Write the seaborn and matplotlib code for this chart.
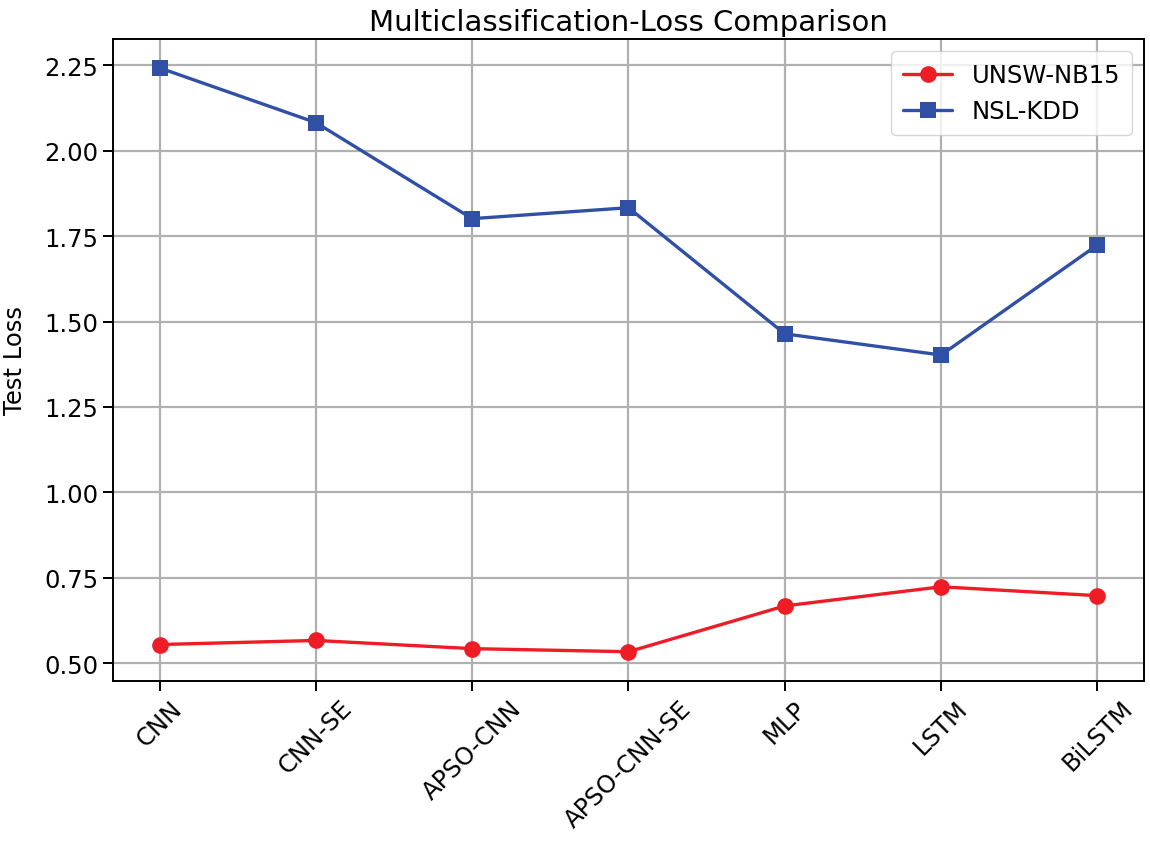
import pandas as pd
import numpy as np
import matplotlib
matplotlib.use('Agg')
import matplotlib.pyplot as plt
import seaborn as sns

# Données
modeles = ['CNN', 'CNN-SE', 'APSO-CNN', 'APSO-CNN-SE', 'MLP', 'LSTM', 'BiLSTM']
perte_unsw = [0.555, 0.567, 0.543, 0.534, 0.668, 0.724, 0.698]
perte_nsl = [2.242, 2.082, 1.801, 1.833, 1.464, 1.402, 1.724]

df = pd.DataFrame({
    'modele': modeles * 2,
    'perte': perte_unsw + perte_nsl,
    'jeu': ['UNSW-NB15'] * len(modeles) + ['NSL-KDD'] * len(modeles),
})

sns.set_style('white')
plt.rcParams['font.family'] = ['DejaVu Sans']
plt.rcParams['text.color'] = 'black'
plt.rcParams['axes.labelcolor'] = 'black'

fig = plt.figure(figsize=(11.5, 8.45), dpi=100)
ax = fig.add_axes([0.098, 0.193, 0.897, 0.760])

sns.lineplot(data=df, x='modele', y='perte', hue='jeu', style='jeu',
             palette={'UNSW-NB15': '#ee1c25', 'NSL-KDD': '#3050a5'},
             markers={'UNSW-NB15': 'o', 'NSL-KDD': 's'}, dashes=False,
             markersize=12, linewidth=2.4, markeredgewidth=0, sort=False, ax=ax)

ax.set_xlim(-0.3, 6.3)
ax.margins(y=0.05)
ax.set_yticks([0.5, 0.75, 1.0, 1.25, 1.5, 1.75, 2.0, 2.25])
ax.grid(True, color='#b0b0b0', linewidth=1.6)
ax.set_axisbelow(True)
for s in ax.spines.values():
    s.set_color('black')
    s.set_linewidth(1.4)
ax.tick_params(axis='both', which='major', direction='out', length=7, width=1.4,
               labelsize=17.5, left=True, bottom=True, colors='black')
plt.setp(ax.get_xticklabels(), rotation=45)
ax.set_xlabel('')
ax.set_ylabel('Test Loss', fontsize=17.5, labelpad=12)
ax.set_title('Multiclassification-Loss Comparison', fontsize=21)

ax.legend(title=None, loc='upper right', fontsize=17.5, framealpha=0.8,
          borderpad=0.5, handlelength=2.0)

fig.savefig('out.png', dpi=100)
